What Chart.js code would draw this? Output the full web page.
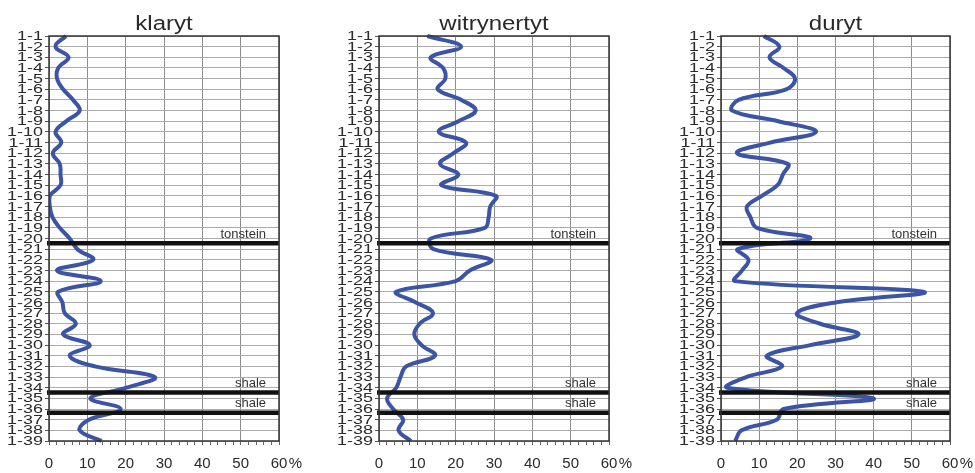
<!DOCTYPE html>
<html>
<head>
<meta charset="utf-8">
<script src="https://cdn.jsdelivr.net/npm/chart.js@4.4.1/dist/chart.umd.min.js"></script>
<style>
  body { margin: 0; background: #fff; width: 975px; height: 473px; overflow: hidden; position: relative; }
  canvas { position: absolute; top: 0; }
</style>
</head>
<body>
<canvas id="c1" width="326" height="473" style="left:0px"></canvas>
<canvas id="c2" width="326" height="473" style="left:330px"></canvas>
<canvas id="c3" width="303" height="473" style="left:672px"></canvas>
<script>
// próbki (kategorie osi pionowej)
const categories = ['1-1','1-2','1-3','1-4','1-5','1-6','1-7','1-8','1-9','1-10',
  '1-11','1-12','1-13','1-14','1-15','1-16','1-17','1-18','1-19','1-20',
  '1-21','1-22','1-23','1-24','1-25','1-26','1-27','1-28','1-29','1-30',
  '1-31','1-32','1-33','1-34','1-35','1-36','1-37','1-38','1-39'];

// udział macerałów [%]
const klaryt = [4.4, 1.7, 5.1, 2.4, 2.1, 3.7, 6.3, 8.0, 4.5, 1.7,
  3.2, 1.0, 2.8, 3.0, 3.0, 0.2, 0.2, 0.9, 2.8, 5.4,
  7.4, 11.5, 2.1, 13.5, 2.4, 3.5, 4.1, 7.0, 3.7, 10.6,
  5.4, 12, 27.6, 20.2, 10.8, 18.7, 10.4, 8.0, 13.7];
const witrynertyt = [12.6, 21.4, 13.5, 16.7, 17.3, 15.3, 21.5, 25.2, 20.7, 15.6,
  22.7, 19.4, 15.9, 20.7, 16.3, 30.5, 29.0, 28.6, 27.6, 13.5,
  14.2, 29.2, 23.7, 20.0, 4.5, 9.6, 14.1, 10.6, 9.2, 11.1,
  14.6, 7.1, 5.6, 4.5, 2.1, 3.7, 6.3, 5.1, 8.3];
const duryt = [11.2, 15.3, 12.7, 16.4, 19.4, 17.1, 4.6, 2.9, 15.0, 24.9,
  12.9, 4.2, 17.5, 16.2, 14.8, 10.7, 6.8, 7.7, 9.4, 23.4,
  4.4, 7.2, 5.5, 3.7, 53, 30, 19.9, 26, 36, 23.4,
  12, 16, 6.6, 1.6, 39.9, 16.4, 14.6, 5.4, 3.7];

// wkładki (pozycja w indeksach kategorii)
const horizonNames = ['tonstein', 'shale', 'shale'];
const horizonPos = [19.45, 33.45, 35.35];

const xTickLabels = [0, 10, 20, 30, 40, 50, 60];

const FONT = '"Liberation Sans", Arial, sans-serif';

const panelPlugin = {
  id: 'panel',
  afterDatasetsDraw(chart) {
    const ctx = chart.ctx;
    const a = chart.chartArea;
    const y = chart.scales.y;

    // wkładki
    ctx.save();
    ctx.strokeStyle = '#111';
    ctx.lineWidth = 4.5;
    ctx.fillStyle = '#333';
    ctx.font = '13px ' + FONT;
    ctx.textAlign = 'right';
    ctx.textBaseline = 'alphabetic';
    horizonPos.forEach((p, i) => {
      const py = y.getPixelForValue(p);
      ctx.beginPath();
      ctx.moveTo(a.left - 2, py);
      ctx.lineTo(a.right, py);
      ctx.stroke();
      ctx.fillText(horizonNames[i], a.right - 13, py - 5.5);
    });
    ctx.restore();

    // ramka
    ctx.save();
    ctx.strokeStyle = '#333';
    ctx.lineWidth = 1.5;
    ctx.strokeRect(a.left, a.top, a.right - a.left, a.bottom - a.top);
    ctx.restore();
  },
  afterDraw(chart) {
    const ctx = chart.ctx;
    const a = chart.chartArea;
    const x = chart.scales.x;
    const y = chart.scales.y;

    ctx.save();
    ctx.fillStyle = '#2a2a2a';

    // etykiety osi Y (rozciągnięte jak w oryginale)
    ctx.font = '13px ' + FONT;
    ctx.textAlign = 'right';
    ctx.textBaseline = 'middle';
    categories.forEach((c, i) => {
      const py = y.getPixelForTick(i);
      ctx.save();
      ctx.translate(a.left - 6, py + 0.5);
      ctx.scale(1.38, 1);
      ctx.fillText(c, 0, 0);
      ctx.restore();
    });

    // etykiety osi X
    ctx.font = '15px ' + FONT;
    ctx.textAlign = 'center';
    ctx.textBaseline = 'alphabetic';
    xTickLabels.forEach(v => {
      ctx.fillText(String(v), x.getPixelForValue(v), 468);
    });
    const w60 = ctx.measureText('60').width;
    ctx.textAlign = 'left';
    ctx.fillText('%', x.getPixelForValue(60) + w60 / 2 + 1.5, 468);

    // tytuł
    ctx.font = '20px ' + FONT;
    ctx.textAlign = 'center';
    ctx.translate((a.left + a.right) / 2, 29.5);
    ctx.scale(1.2, 1);
    ctx.fillText(chart.options.plugins.panelTitle, 0, 0);
    ctx.restore();
  }
};

function makePanel(id, title, values, padRight) {
  return new Chart(document.getElementById(id), {
    type: 'line',
    data: {
      labels: categories,
      datasets: [{
        label: title,
        data: values,
        borderColor: '#3b54a5',
        borderWidth: 4,
        pointRadius: 0,
        tension: 0.4,
        fill: false
      }]
    },
    options: {
      indexAxis: 'y',
      responsive: false,
      animation: false,
      layout: { padding: { left: 0, right: padRight, top: 36, bottom: 0 } },
      plugins: {
        legend: { display: false },
        tooltip: { enabled: false },
        panelTitle: title
      },
      scales: {
        x: {
          type: 'linear',
          position: 'bottom',
          min: 0,
          max: 60,
          afterFit: s => { s.height = 32; },
          ticks: { stepSize: 2, display: false },
          grid: {
            color: c => (c.tick && c.tick.value % 10 === 0) ? '#8c8c8c' : 'rgba(0,0,0,0)',
            tickColor: '#666',
            tickLength: 4,
            lineWidth: 1
          },
          border: { display: false }
        },
        y: {
          type: 'category',
          offset: false,
          afterFit: s => { s.width = 49; },
          ticks: { display: false, autoSkip: false },
          grid: {
            color: '#ababab',
            tickColor: '#555',
            tickLength: 4,
            lineWidth: 1
          },
          border: { display: false }
        }
      }
    },
    plugins: [panelPlugin]
  });
}

makePanel('c1', 'klaryt', klaryt, 47);
makePanel('c2', 'witrynertyt', witrynertyt, 47);
makePanel('c3', 'duryt', duryt, 25);
</script>
</body>
</html>
